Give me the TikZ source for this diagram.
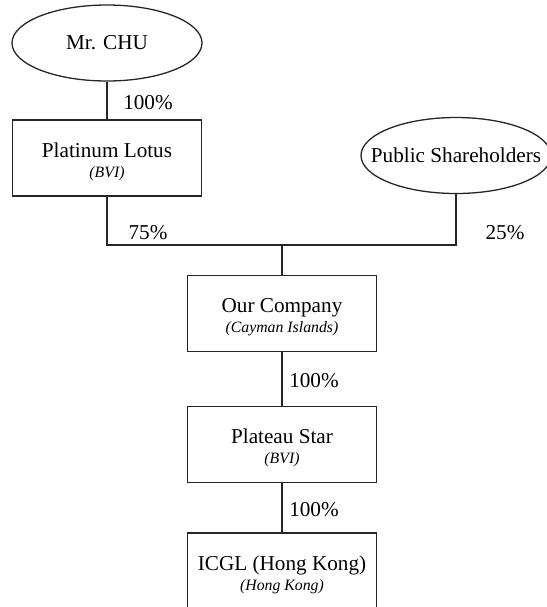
\documentclass[tikz,border=0pt]{standalone}
\usepackage{fontspec}
\setmainfont{Liberation Serif}
\usetikzlibrary{shapes.geometric}

\tikzset{
  owner/.style={draw, ellipse, minimum width=95pt, minimum height=38pt, inner sep=0pt},
  entity/.style={draw, rectangle, minimum width=94.5pt, minimum height=38pt, align=center, inner sep=0pt},
  pct/.style={inner sep=0pt}
}
\newcommand{\regplace}[1]{{\fontsize{7.9}{9}\selectfont\itshape #1}}
\newcommand{\coname}[2]{\rule{0pt}{11pt}#1\\[-2.5pt]\regplace{#2}}

\begin{document}
\begin{tikzpicture}[x=0.5pt, y=-0.5pt, line width=0.65pt, draw=black!85, font=\fontsize{10.6}{12.5}\selectfont]
\useasboundingbox (0,0) rectangle (547,607);
\clip (0,0) rectangle (547,607);

% owners
\node[owner] (chu) at (107,43) {\makebox[0pt]{Mr. CHU}};
\node[owner] (public) at (456,155.5) {\makebox[0pt]{Public Shareholders}};

% companies
\node[entity] (lotus) at (107,158) {\coname{Platinum Lotus}{(BVI)}};
\node[entity] (ourco) at (282,313.5) {\coname{Our Company}{(Cayman Islands)}};
\node[entity] (plateau) at (282,444.5) {\coname{Plateau Star}{(BVI)}};
\node[entity] (icgl) at (282,571) {\coname{ICGL (Hong Kong)}{(Hong Kong)}};

\coordinate (split) at (282,245);

\draw (chu) -- (lotus);
\draw (lotus.south) -- (lotus.south |- split) -- (public.south |- split) -- (public.south);
\draw (split) -- (ourco);
\draw (ourco) -- (plateau);
\draw (plateau) -- (icgl);

% shares
\node[pct] (p1) at (148,103) {100\%};
\node[pct] (p2) at (148,233) {75\%};
\node[pct] (p3) at (505,233) {25\%};
\node[pct] (p4) at (314,381) {100\%};
\node[pct] (p5) at (314,510) {100\%};

\end{tikzpicture}
\end{document}
